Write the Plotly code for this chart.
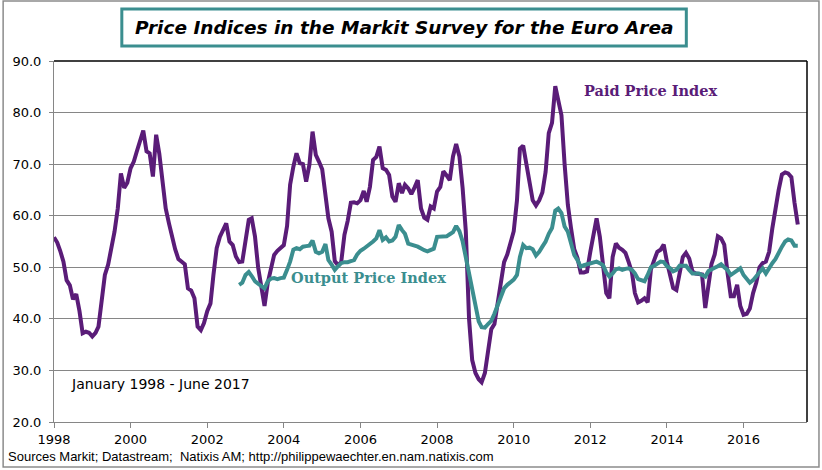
import pandas as pd
import plotly.graph_objects as go

# ---- Data ----
paid_start = "1998-01-01"
paid_values = [
    # 1998
    55.8, 54.8, 53.2, 51.1, 47.5, 46.5, 43.8, 44.8, 41.5, 37.2, 37.5, 37.3,
    # 1999
    36.6, 37.3, 38.5, 44.0, 48.5, 50.5, 53.5, 56.9, 61.4, 68.2, 65.4, 66.4,
    # 2000
    69.2, 70.5, 72.5, 74.5, 76.5, 72.5, 72.1, 67.6, 75.7, 72.0, 66.5, 61.4,
    # 2001
    58.5, 55.6, 53.5, 51.6, 51.2, 50.6, 45.9, 45.5, 44.0, 38.5, 37.8, 39.2,
    # 2002
    41.5, 43.0, 48.5, 53.7, 55.9, 57.2, 58.5, 55.0, 54.3, 52.1, 51.0, 51.1,
    # 2003
    55.0, 59.2, 59.5, 56.0, 50.0, 45.5, 42.5, 47.0, 50.0, 52.4, 53.2, 53.7,
    # 2004
    54.3, 58.0, 66.0, 69.5, 72.1, 70.2, 70.0, 66.6, 69.9, 76.3, 71.8, 70.5,
    # 2005
    69.0, 64.0, 59.5, 56.9, 51.2, 50.4, 51.0, 56.3, 59.0, 62.5, 62.6, 62.4,
    # 2006
    63.0, 64.8, 62.7, 65.6, 70.8, 71.4, 73.4, 69.2, 68.9, 67.9, 63.7, 62.7,
    # 2007
    66.3, 64.4, 66.0, 65.3, 64.2, 65.5, 66.9, 61.4, 59.6, 59.2, 61.8, 61.4,
    # 2008
    64.7, 65.6, 68.6, 67.8, 66.9, 71.5, 73.9, 71.5, 65.3, 57.0, 40.0, 32.0,
    # 2009
    29.5, 28.3, 27.7, 29.5, 34.0, 38.0, 39.0, 43.5, 47.5, 51.0, 52.5, 54.5,
    # 2010
    57.0, 63.0, 73.0, 73.6, 70.0, 66.0, 63.0, 62.0, 63.0, 64.5, 68.5, 76.0,
    # 2011
    78.0, 85.1, 82.2, 79.5, 70.0, 62.1, 57.6, 53.5, 51.8, 49.0, 49.0, 49.2,
    # 2012
    53.0, 56.5, 59.5, 55.9, 50.5, 45.0, 44.0, 52.0, 54.6, 53.8, 53.4, 52.8,
    # 2013
    51.0, 49.0, 45.0, 43.2, 43.5, 44.0, 43.2, 49.6, 51.4, 53.0, 53.4, 54.4,
    # 2014
    51.0, 48.5, 46.0, 45.6, 48.5, 52.0, 52.8, 51.7, 49.2, 48.8, 48.7, 48.6,
    # 2015
    42.1, 46.0, 50.6, 52.5, 56.0, 55.6, 54.4, 49.0, 44.4, 44.4, 46.6, 42.5,
    # 2016
    40.8, 41.0, 42.0, 45.0, 47.0, 50.0, 50.8, 51.1, 53.0, 57.5, 62.0, 65.0,
    # 2017
    68.0, 68.4, 68.2, 67.5, 62.5, 58.3,
]

output_start = "2002-11-01"
output_values = [
    # 2002
    46.6, 47.0,
    # 2003
    48.5, 49.1, 48.3, 47.3, 46.8, 46.3, 45.9, 47.3, 47.8, 47.9, 47.7, 47.9,
    # 2004
    48.0, 49.5, 51.1, 53.4, 53.7, 53.5, 54.0, 54.1, 54.2, 55.2, 53.0, 52.7,
    # 2005
    53.0, 54.5, 51.4, 50.5, 49.5, 50.2, 50.8, 51.0, 51.0, 51.2, 51.4, 52.5,
    # 2006
    53.2, 53.6, 54.0, 54.4, 55.0, 55.6, 57.2, 55.3, 55.8, 55.0, 55.2, 55.9,
    # 2007
    58.2, 57.2, 56.5, 54.6, 54.3, 54.2, 54.0, 53.6, 53.3, 53.1, 53.3, 53.6,
    # 2008
    55.9, 56.0, 55.9, 56.0, 56.4, 56.8, 58.0, 57.0, 55.0, 52.0, 48.5, 45.0,
    # 2009
    42.4, 39.5, 38.4, 38.3, 39.0, 39.6, 41.0, 42.5, 44.5, 45.9, 46.6, 47.2,
    # 2010
    47.6, 48.5, 52.0, 54.3, 53.7, 53.8, 53.5, 52.3, 53.0, 54.0, 55.0, 56.5,
    # 2011
    57.6, 61.0, 61.4, 60.5, 57.9, 56.9, 54.3, 52.4, 51.4, 50.1, 50.4, 50.6,
    # 2012
    50.8, 51.0, 51.1, 50.8, 50.4, 49.0, 48.2, 48.8, 49.6, 49.8, 49.5, 49.7,
    # 2013
    49.8, 49.5, 48.8, 47.7, 47.4, 47.3, 48.5, 50.0, 50.3, 50.6, 51.1, 51.0,
    # 2014
    50.2, 49.8, 49.2, 49.5, 50.3, 50.3, 50.3, 49.5, 48.8, 48.8, 48.8, 48.5,
    # 2015
    48.2, 49.3, 49.5, 49.9, 50.2, 50.6, 50.0, 49.5, 48.5, 49.0, 49.5, 49.8,
    # 2016
    48.5, 47.8, 47.0, 47.5, 48.2, 49.2, 49.8, 48.8, 50.0, 50.8, 51.6, 53.0,
    # 2017
    54.0, 55.0, 55.4, 55.2, 54.2, 54.2,
]

tick_years = [str(y) for y in range(1998, 2017, 2)]
y_ticks = [20, 30, 40, 50, 60, 70, 80, 90]

title_text = "Price Indices in the Markit Survey for the Euro Area"
paid_label = "Paid Price Index"
output_label = "Output Price Index"
period_text = "January 1998 - June 2017"
source_text = "Sources Markit; Datastream;  Natixis AM; http://philippewaechter.en.nam.natixis.com"

# ---- Build ----
paid_dates = pd.date_range(paid_start, periods=len(paid_values), freq="MS")
output_dates = pd.date_range(output_start, periods=len(output_values), freq="MS")

PURPLE = "#5a1c78"
TEAL = "#3b8e8f"
GRID = "#868686"

fig = go.Figure()
fig.add_trace(go.Scatter(x=paid_dates, y=paid_values, mode="lines",
                         line=dict(color=PURPLE, width=4), name=paid_label))
fig.add_trace(go.Scatter(x=output_dates, y=output_values, mode="lines",
                         line=dict(color=TEAL, width=4), name=output_label))

W, H = 822, 470
L, R, T, B = 52, 15, 61, 48
pw, ph = W - L - R, H - T - B

def px(xp):
    return (xp - L) / pw

def py(yp):
    return (H - B - yp) / ph

fig.update_layout(
    width=W, height=H,
    margin=dict(l=L, r=R, t=T, b=B),
    paper_bgcolor="white", plot_bgcolor="white",
    showlegend=False,
    font=dict(family="DejaVu Sans", size=13, color="black"),
    xaxis=dict(
        type="date",
        range=["1998-01-01", "2017-08-28"],
        tickvals=[f"{y}-01-01" for y in tick_years],
        ticktext=tick_years,
        showgrid=False, zeroline=False,
        showline=True, linecolor=GRID, linewidth=1,
        ticks="outside", ticklen=5, tickcolor=GRID,
        tickfont=dict(family="DejaVu Sans", size=13, color="black"),
    ),
    yaxis=dict(
        range=[20, 90],
        tickvals=y_ticks,
        tickformat=".1f",
        showgrid=True, gridcolor=GRID, gridwidth=1,
        zeroline=False,
        showline=True, linecolor=GRID, linewidth=1,
        ticks="outside", ticklen=4, tickcolor=GRID,
        ticklabelstandoff=5,
        tickfont=dict(family="DejaVu Sans", size=13, color="black"),
    ),
)

shapes = [
    # top and right plot border (black)
    dict(type="line", xref="paper", yref="paper", x0=0, x1=1, y0=1, y1=1,
         line=dict(color="black", width=1.5)),
    dict(type="line", xref="paper", yref="paper", x0=1, x1=1, y0=0, y1=1,
         line=dict(color="black", width=1.5)),
    # outer chart border
    dict(type="rect", xref="paper", yref="paper",
         x0=px(1), x1=px(819), y0=py(467), y1=py(1),
         line=dict(color="#8c8c8c", width=1.5), fillcolor="rgba(0,0,0,0)"),
    # title box
    dict(type="rect", xref="paper", yref="paper",
         x0=px(120), x1=px(686), y0=py(46), y1=py(9),
         line=dict(color=TEAL, width=3), fillcolor="white"),
]
fig.update_layout(shapes=shapes)

annotations = [
    dict(text=f"<b><i>{title_text}</i></b>", xref="paper", yref="paper",
         x=px(403), y=py(27.5), xanchor="center", yanchor="middle", showarrow=False,
         font=dict(family="DejaVu Sans", size=18.5, color="black")),
    dict(text=f"<b>{paid_label}</b>", xref="paper", yref="paper",
         x=px(650), y=py(90), xanchor="center", yanchor="middle", showarrow=False,
         font=dict(family="DejaVu Serif", size=14.5, color=PURPLE)),
    dict(text=f"<b>{output_label}</b>", xref="paper", yref="paper",
         x=px(367.5), y=py(277), xanchor="center", yanchor="middle", showarrow=False,
         font=dict(family="DejaVu Serif", size=14.5, color=TEAL)),
    dict(text=period_text, xref="paper", yref="paper",
         x=px(67), y=py(384), xanchor="left", yanchor="middle", showarrow=False,
         font=dict(family="DejaVu Sans", size=14, color="black")),
    dict(text=source_text, xref="paper", yref="paper",
         x=px(4), y=py(456), xanchor="left", yanchor="middle", showarrow=False,
         font=dict(family="Liberation Sans", size=13, color="black")),
]
fig.update_layout(annotations=annotations)

fig.write_html("out.html",
               config={"displayModeBar": False},
               post_script="document.body.style.margin='0';document.body.style.padding='0';")
